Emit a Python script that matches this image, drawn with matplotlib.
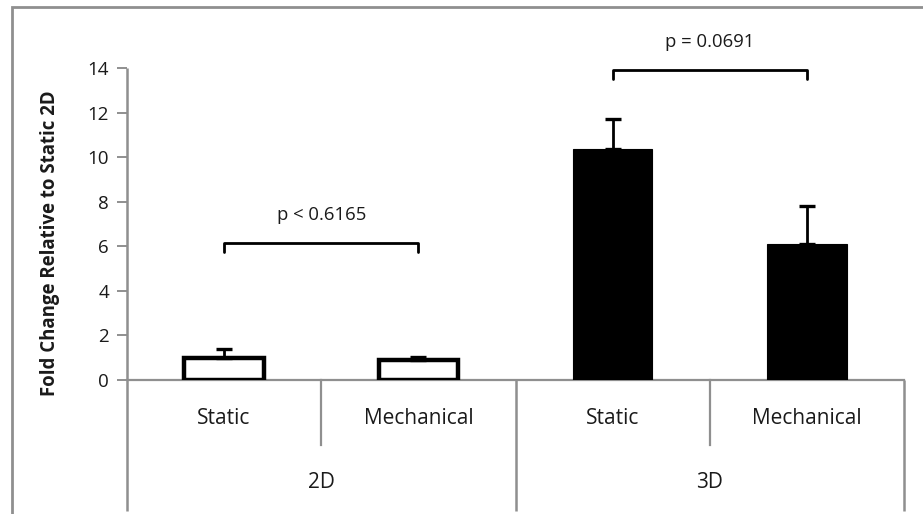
import matplotlib
matplotlib.use("Agg")
import matplotlib.pyplot as plt
from matplotlib.patches import Rectangle

# Data
groups = ["2D", "3D"]
conditions = ["Static", "Mechanical", "Static", "Mechanical"]
fold_change = [1.0, 0.9, 10.35, 6.1]
err_upper = [0.38, 0.15, 1.35, 1.7]
comparisons = [("p < 0.6165", 0, 1, 6.15), ("p = 0.0691", 2, 3, 13.9)]
yticks = [0, 2, 4, 6, 8, 10, 12, 14]

plt.rcParams["font.family"] = ["Open Sans", "DejaVu Sans"]
GRAY = "#8f8f8f"
TXT = "#1a1a1a"

W, H = 923, 514
fig = plt.figure(figsize=(W / 100, H / 100), dpi=100)

# outer frame
fig.add_artist(Rectangle((12 / W, -0.1), 1.2, 1 - 7.5 / H + 0.1,
                         transform=fig.transFigure, fill=False,
                         edgecolor=GRAY, linewidth=2.0))

ax = fig.add_axes([127 / W, 1 - 380 / H, (904 - 127) / W, (380 - 68) / H])
ax.set_xlim(0, 4)
ax.set_ylim(0, 14)

xs = [0.5, 1.5, 2.5, 3.5]
fills = ["white", "white", "black", "black"]
for x, v, e, fc in zip(xs, fold_change, err_upper, fills):
    ax.bar(x, v, width=0.41, color=fc, edgecolor="black",
           linewidth=3.2 if fc == "white" else 0.8, zorder=3)
    ax.errorbar(x, v, yerr=[[0], [e]], fmt="none", ecolor="black",
                elinewidth=2.0, capsize=6, capthick=2.4, zorder=4)

# significance brackets
for label, i, j, yb in comparisons:
    x0, x1 = xs[i], xs[j]
    ax.plot([x0, x0, x1, x1], [yb - 0.4, yb, yb, yb - 0.4], color="black",
            linewidth=2.0, clip_on=False, zorder=5,
            solid_capstyle="round", solid_joinstyle="round")
    ax.text((x0 + x1) / 2, yb + 1.25, label, ha="center", va="center",
            fontsize=13.3, color=TXT)

# axes styling
for s in ["top", "right"]:
    ax.spines[s].set_visible(False)
ax.spines["left"].set_visible(False)
ax.spines["bottom"].set_color(GRAY)
ax.spines["bottom"].set_linewidth(1.6)
ax.set_yticks(yticks)
ax.set_yticklabels([str(t) for t in yticks], fontsize=13.5, color=TXT)
ax.tick_params(axis="y", length=7, width=1.4, color=GRAY, pad=6)
ax.set_xticks([])

# left axis line running down through the category table
ax.plot([0, 0], [14, -5.9], color=GRAY, linewidth=1.8, clip_on=False,
        solid_capstyle="butt")

# category table below the axis
for xd in [1, 3]:
    ax.plot([xd, xd], [0, -2.92], color=GRAY, linewidth=1.6, clip_on=False)
for xd in [2, 4]:
    ax.plot([xd, xd], [0, -5.9], color=GRAY, linewidth=1.8, clip_on=False,
            solid_capstyle="butt")
for x, c in zip(xs, conditions):
    ax.text(x, -1.72, c, ha="center", va="center", fontsize=15, color=TXT)
for k, g in enumerate(groups):
    ax.text(1 + 2 * k, -4.62, g, ha="center", va="center", fontsize=15,
            color=TXT)

fig.text(50 / W, 1 - 243 / H, "Fold Change Relative to Static 2D",
         rotation=90, ha="center", va="center", fontsize=13.4,
         fontweight="bold", color=TXT)

fig.savefig("out.png", dpi=100)
